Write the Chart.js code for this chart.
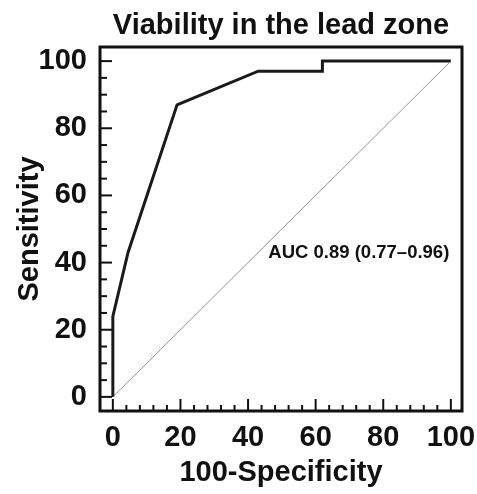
<!DOCTYPE html>
<html>
<head>
<meta charset="utf-8">
<script src="https://cdn.jsdelivr.net/npm/chart.js@4"></script>
<style>
  html, body { margin: 0; padding: 0; background: #fff; }
  #wrap { width: 477px; height: 494px; }
</style>
</head>
<body>
<div id="wrap"><canvas id="roc"></canvas></div>
<script>
// ROC curve (100-specificity, sensitivity)
const rocX = [0, 0, 4.5, 19, 43, 62, 62, 100];
const rocY = [0, 24, 43, 87, 97, 97, 100, 100];
// chance line
const refX = [0, 100];
const refY = [0, 100];
const xTicks = [0, 20, 40, 60, 80, 100];
const yTicks = [0, 20, 40, 60, 80, 100];
const titleText = 'Viability in the lead zone';
const aucLabel = 'AUC 0.89 (0.77\u20130.96)';

const FONT = '"Liberation Sans", Arial, Helvetica, sans-serif';

// frame + inward tick marks + title + AUC text
const framePlugin = {
    id: 'frame',
    afterDatasetsDraw(chart) {
        const { ctx, chartArea: a, scales: { x, y } } = chart;
        ctx.save();
        ctx.strokeStyle = '#111';
        ctx.lineWidth = 2;
        // x ticks: major every 20, minor every 4
        for (let v = 0; v <= 100; v += 4) {
            const px = x.getPixelForValue(v);
            const len = v % 20 === 0 ? 12 : 6;
            ctx.beginPath();
            ctx.moveTo(px, a.bottom);
            ctx.lineTo(px, a.bottom - len);
            ctx.stroke();
        }
        // y ticks: major every 20, minor every 5
        for (let v = 0; v <= 100; v += 5) {
            const py = y.getPixelForValue(v);
            const len = v % 20 === 0 ? 12 : 7;
            ctx.beginPath();
            ctx.moveTo(a.left, py);
            ctx.lineTo(a.left + len, py);
            ctx.stroke();
        }
        ctx.lineWidth = 3;
        ctx.strokeRect(a.left, a.top, a.right - a.left, a.bottom - a.top);

        ctx.fillStyle = '#111';
        ctx.textAlign = 'center';
        ctx.textBaseline = 'alphabetic';
        ctx.font = 'bold 29px ' + FONT;
        ctx.fillText(titleText, (a.left + a.right) / 2, 34);

        ctx.font = 'bold 18.5px ' + FONT;
        ctx.textAlign = 'left';
        ctx.textBaseline = 'middle';
        ctx.fillText(aucLabel, x.getPixelForValue(46), y.getPixelForValue(43));
        ctx.restore();
    }
};

new Chart(document.getElementById('roc'), {
    type: 'scatter',
    data: {
        datasets: [
            {
                data: refX.map((v, i) => ({ x: v, y: refY[i] })),
                showLine: true,
                borderColor: '#777',
                borderWidth: 0.8,
                pointRadius: 0
            },
            {
                data: rocX.map((v, i) => ({ x: v, y: rocY[i] })),
                showLine: true,
                borderColor: '#1a1a1a',
                borderWidth: 3,
                pointRadius: 0,
                tension: 0
            }
        ]
    },
    options: {
        responsive: true,
        maintainAspectRatio: false,
        animation: false,
        layout: { padding: { left: 0, right: 0, top: 47, bottom: 0 } },
        plugins: {
            legend: { display: false },
            tooltip: { enabled: false },
            title: { display: false }
        },
        scales: {
            x: {
                type: 'linear',
                min: -3.8,
                max: 103.3,
                grid: { display: false },
                border: { display: false },
                afterBuildTicks: s => { s.ticks = xTicks.map(v => ({ value: v })); },
                afterFit: s => { s.height = 83; s.paddingRight = 15; s.paddingLeft = 0; },
                ticks: {
                    color: '#111',
                    padding: 2,
                    maxRotation: 0,
                    font: { family: FONT, size: 29, weight: 'bold' }
                },
                title: {
                    display: true,
                    text: '100-Specificity',
                    color: '#111',
                    padding: { top: 4, bottom: 4 },
                    font: { family: FONT, size: 29, weight: 'bold' }
                }
            },
            y: {
                type: 'linear',
                min: -4.2,
                max: 104.2,
                grid: { display: false },
                border: { display: false },
                afterBuildTicks: s => { s.ticks = yTicks.map(v => ({ value: v })); },
                afterFit: s => { s.width = 100; s.paddingTop = 0; s.paddingBottom = 0; },
                ticks: {
                    color: '#111',
                    padding: 5,
                    font: { family: FONT, size: 29, weight: 'bold' }
                },
                title: {
                    display: true,
                    text: 'Sensitivity',
                    color: '#111',
                    padding: { top: 13, bottom: 0 },
                    font: { family: FONT, size: 29, weight: 'bold' }
                }
            }
        }
    },
    plugins: [framePlugin]
});
</script>
</body>
</html>
